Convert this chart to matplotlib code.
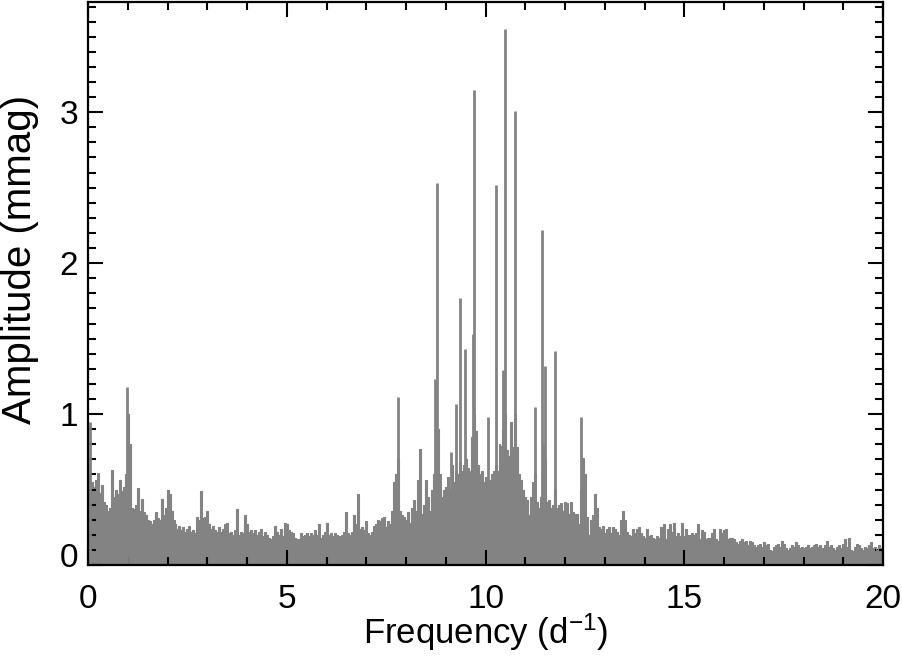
import numpy as np
import matplotlib
matplotlib.use("Agg")
import matplotlib.pyplot as plt
import matplotlib.transforms as mtransforms

# amplitude spectrum, background (noise envelope) read every 0.05 d^-1
freq_step = 0.05
noise_amp = [
    # 0 - 1
    0.62, 0.55, 0.55, 0.52, 0.56, 0.61, 0.48, 0.53, 0.42, 0.40,
    0.36, 0.38, 0.63, 0.45, 0.50, 0.47, 0.56, 0.49, 0.52, 0.60,
    # 1 - 2
    1.00, 0.80, 0.38, 0.37, 0.40, 0.51, 0.36, 0.44, 0.35, 0.33,
    0.30, 0.29, 0.27, 0.30, 0.35, 0.31, 0.30, 0.44, 0.33, 0.38,
    # 2 - 3
    0.50, 0.47, 0.36, 0.30, 0.27, 0.24, 0.26, 0.23, 0.25, 0.22,
    0.24, 0.26, 0.22, 0.23, 0.21, 0.32, 0.30, 0.49, 0.31, 0.32,
    # 3 - 4
    0.36, 0.27, 0.24, 0.26, 0.23, 0.22, 0.25, 0.22, 0.24, 0.27,
    0.28, 0.21, 0.22, 0.20, 0.23, 0.37, 0.20, 0.22, 0.21, 0.33,
    # 4 - 5
    0.27, 0.22, 0.23, 0.21, 0.23, 0.20, 0.22, 0.24, 0.19, 0.22,
    0.20, 0.18, 0.17, 0.19, 0.26, 0.22, 0.20, 0.24, 0.19, 0.28,
    # 5 - 6
    0.27, 0.23, 0.22, 0.21, 0.18, 0.17, 0.17, 0.21, 0.19, 0.20,
    0.21, 0.19, 0.21, 0.20, 0.23, 0.20, 0.27, 0.18, 0.20, 0.22,
    # 6 - 7
    0.28, 0.20, 0.21, 0.19, 0.21, 0.20, 0.16, 0.19, 0.20, 0.22,
    0.35, 0.21, 0.20, 0.22, 0.33, 0.27, 0.47, 0.24, 0.25, 0.23,
    # 7 - 8
    0.29, 0.21, 0.20, 0.22, 0.26, 0.27, 0.30, 0.29, 0.31, 0.32,
    0.25, 0.29, 0.27, 0.36, 0.55, 0.60, 0.70, 0.36, 0.33, 0.32,
    # 8 - 9
    0.30, 0.35, 0.28, 0.38, 0.43, 0.36, 0.56, 0.77, 0.34, 0.40,
    0.56, 0.45, 0.36, 0.50, 0.60, 0.75, 0.90, 0.60, 0.45, 0.50,
    # 9 - 10
    0.52, 0.58, 0.50, 0.66, 0.55, 0.62, 0.60, 0.68, 0.62, 0.66,
    0.70, 0.64, 0.62, 0.85, 1.00, 0.89, 0.66, 0.60, 0.62, 0.55,
    # 10 - 11
    0.58, 0.52, 0.56, 0.60, 0.62, 0.66, 0.62, 0.80, 0.79, 0.90,
    1.00, 0.76, 0.72, 0.95, 0.78, 1.00, 0.78, 0.60, 0.56, 0.50,
    # 11 - 12
    0.45, 0.43, 0.33, 0.45, 0.55, 0.60, 0.42, 0.38, 0.45, 0.80,
    0.70, 0.42, 0.43, 0.38, 0.40, 0.50, 0.38, 0.40, 0.41, 0.36,
    # 12 - 13
    0.42, 0.41, 0.34, 0.42, 0.35, 0.34, 0.34, 0.27, 0.50, 0.71,
    0.60, 0.32, 0.20, 0.30, 0.33, 0.47, 0.38, 0.25, 0.24, 0.26,
    # 13 - 14
    0.21, 0.24, 0.25, 0.21, 0.25, 0.24, 0.22, 0.20, 0.30, 0.36,
    0.30, 0.22, 0.20, 0.19, 0.24, 0.21, 0.24, 0.25, 0.21, 0.19,
    # 14 - 15
    0.18, 0.24, 0.19, 0.20, 0.18, 0.17, 0.19, 0.18, 0.25, 0.20,
    0.27, 0.17, 0.24, 0.27, 0.22, 0.28, 0.19, 0.21, 0.19, 0.28,
    # 15 - 16
    0.19, 0.24, 0.20, 0.20, 0.21, 0.20, 0.21, 0.27, 0.17, 0.23,
    0.22, 0.17, 0.18, 0.18, 0.21, 0.24, 0.17, 0.16, 0.24, 0.21,
    # 16 - 17
    0.23, 0.24, 0.17, 0.18, 0.18, 0.17, 0.15, 0.14, 0.16, 0.17,
    0.15, 0.16, 0.13, 0.16, 0.15, 0.13, 0.12, 0.13, 0.14, 0.12,
    # 17 - 18
    0.15, 0.13, 0.14, 0.10, 0.09, 0.12, 0.13, 0.14, 0.12, 0.16,
    0.14, 0.11, 0.10, 0.11, 0.13, 0.12, 0.15, 0.13, 0.11, 0.12,
    # 18 - 19
    0.11, 0.12, 0.13, 0.11, 0.12, 0.13, 0.14, 0.12, 0.13, 0.11,
    0.10, 0.13, 0.16, 0.12, 0.13, 0.11, 0.10, 0.12, 0.13, 0.11,
    # 19 - 20
    0.14, 0.17, 0.12, 0.18, 0.10, 0.09, 0.12, 0.14, 0.13, 0.11,
    0.10, 0.12, 0.11, 0.13, 0.15, 0.11, 0.12, 0.10, 0.13, 0.11,
    0.10,
]

# narrow peaks sticking out of the background
peak_freq = [0.04, 0.97, 7.80, 8.72, 8.79, 9.13, 9.25, 9.36, 9.48, 9.68,
             9.72, 10.05, 10.26, 10.44, 10.50, 10.74, 11.24, 11.43, 11.49,
             11.74, 12.41]
peak_amp = [0.95, 1.18, 1.11, 1.23, 2.53, 0.75, 1.07, 1.77, 1.43, 1.53,
            3.15, 0.98, 2.52, 1.29, 3.55, 3.01, 1.05, 2.22, 1.32,
            1.42, 0.98]

plt.rcParams["font.family"] = ["Liberation Sans", "DejaVu Sans"]
plt.rcParams["mathtext.fontset"] = "custom"
plt.rcParams["mathtext.rm"] = "Liberation Sans"
plt.rcParams["mathtext.it"] = "Liberation Sans"

grey = "#838383"

fig = plt.figure(figsize=(9.03, 6.61), dpi=100)
ax = fig.add_axes([0.0975, 0.1452, 0.8805, 0.8518])

freq = np.arange(len(noise_amp)) * freq_step
ax.fill_between(freq, 0, noise_amp, color=grey, lw=0, step="mid")
ax.plot(freq, noise_amp, color=grey, lw=0.8, drawstyle="steps-mid")
ax.vlines(peak_freq, 0, peak_amp, color=grey, lw=2.0)

ax.set_xlim(0, 20)
ax.set_ylim(0, 3.73)
ax.set_xticks([0, 5, 10, 15, 20])
ax.set_xticks(np.arange(0, 21, 1), minor=True)
ax.set_yticks([0, 1, 2, 3])
ax.set_yticks(np.arange(0, 3.75, 0.1), minor=True)

for s in ax.spines.values():
    s.set_linewidth(1.6)
ax.tick_params(which="both", direction="in", top=True, right=True,
               width=1.5, labelsize=24)
ax.tick_params(which="major", length=11)
ax.tick_params(which="minor", length=6)
ax.tick_params(axis="x", pad=13.5)
ax.tick_params(axis="y", pad=7)

# the zero label sits a little above the axis line
zero_lab = ax.get_yticklabels()[0]
zero_lab.set_transform(zero_lab.get_transform() +
                       mtransforms.ScaledTranslation(0, 7 / 72, fig.dpi_scale_trans))

ax.set_xlabel("Frequency (d$^{-1}$)", fontsize=25)
ax.set_ylabel("Amplitude (mmag)", fontsize=29)
ax.xaxis.label.set_verticalalignment("baseline")
ax.xaxis.set_label_coords(0.5, -0.1403)
ax.yaxis.set_label_coords(-0.0623, 0.5435)

fig.savefig("out.png", dpi=100)
